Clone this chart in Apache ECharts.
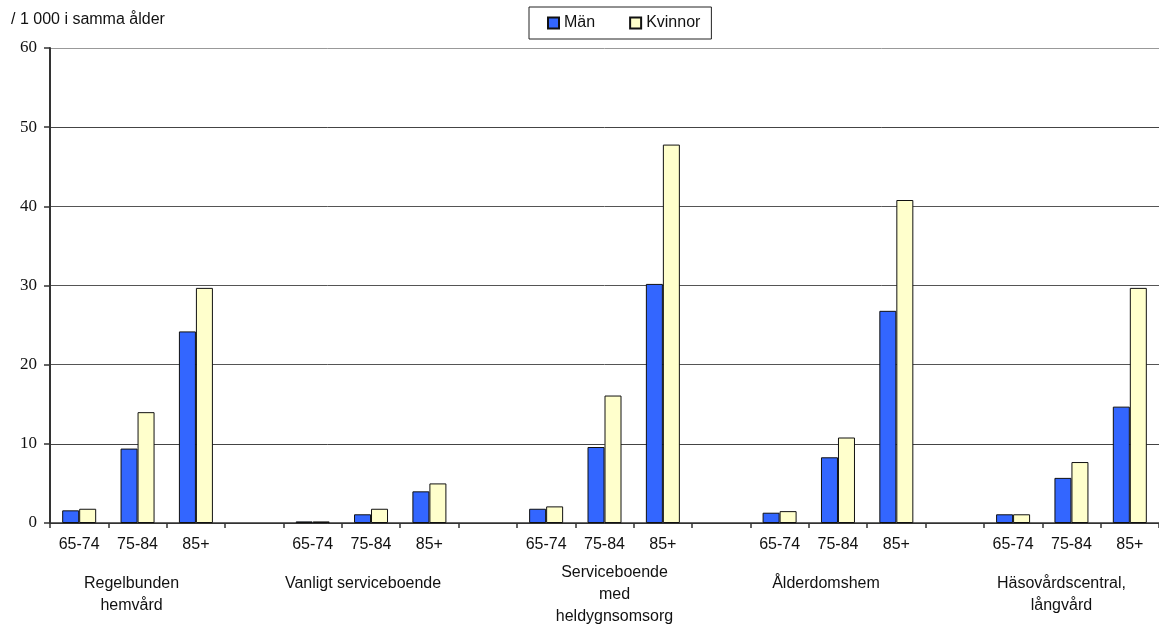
<!DOCTYPE html>
<html>
<head>
<meta charset="utf-8">
<script src="https://cdn.jsdelivr.net/npm/echarts@6/dist/echarts.min.js"></script>
<style>
  html, body { margin: 0; padding: 0; background: #fff; }
  #chart { width: 1159px; height: 625px; }
</style>
</head>
<body>
<div id="chart"></div>
<script>
// Age bands repeated in every care group
const ageBands = ['65-74', '75-84', '85+'];
// Care groups (one block of three age bands each)
const careGroups = [
  'Regelbunden\nhemvård',
  'Vanligt serviceboende',
  'Serviceboende\nmed\nheldygnsomsorg',
  'Ålderdomshem',
  'Häsovårdscentral,\nlångvård'
];
// Per 1 000 of the same age, in group order, three age bands per group
const menValues   = [1.6, 9.4, 24.2,  0.2, 1.1, 4.0,  1.8, 9.6, 30.2,  1.3, 8.3, 26.8,  1.1, 5.7, 14.7];
const womenValues = [1.8, 14.0, 29.7, 0.2, 1.8, 5.0,  2.1, 16.1, 47.8, 1.5, 10.8, 40.8, 1.1, 7.7, 29.7];
const seriesNames = ['Män', 'Kvinnor'];
const yTicks = { min: 0, max: 60, interval: 10 };
const unitLabel = '/ 1 000 i samma ålder';

// Build the category axis: age bands per group, an empty slot between groups
const categories = [];
const men = [];
const women = [];
const groupCenterIndex = [];
careGroups.forEach((g, gi) => {
  if (gi > 0) { categories.push(''); men.push('-'); women.push('-'); }
  ageBands.forEach((a, ai) => {
    if (ai === 1) groupCenterIndex.push(categories.length);
    categories.push(a);
    men.push(menValues[gi * 3 + ai]);
    women.push(womenValues[gi * 3 + ai]);
  });
});

const sans = 'Liberation Sans, Arial, sans-serif';
const serif = 'Liberation Serif, Times New Roman, serif';

const chart = echarts.init(document.getElementById('chart'), null, { renderer: 'canvas' });

chart.setOption({
  animation: false,
  backgroundColor: '#ffffff',
  grid: { left: 50, top: 48, width: 1118, height: 475, containLabel: false },
  legend: {
    left: 529, top: 7,
    padding: [8, 11, 8, 18],
    itemGap: 34,
    itemWidth: 11, itemHeight: 11,
    borderColor: '#222', borderWidth: 1,
    icon: 'rect',
    textStyle: { fontFamily: sans, fontSize: 16, color: '#111' },
    data: seriesNames
  },
  xAxis: {
    type: 'category',
    data: categories,
    boundaryGap: true,
    axisLine: { lineStyle: { color: '#333', width: 1.5 } },
    axisTick: { show: true, length: 5, lineStyle: { color: '#333', width: 1.5 } },
    axisLabel: { interval: 0, margin: 14, fontFamily: sans, fontSize: 16, color: '#111' }
  },
  yAxis: {
    type: 'value',
    min: yTicks.min, max: yTicks.max, interval: yTicks.interval,
    axisLine: { show: true, lineStyle: { color: '#333', width: 2 } },
    axisTick: { show: true, length: 6, lineStyle: { color: '#333', width: 1.5 } },
    axisLabel: { margin: 13, fontFamily: serif, fontSize: 17, color: '#111' },
    splitLine: { show: true, lineStyle: { color: ['#333', '#444', '#555', '#555', '#555', '#444', '#999'], width: 1 } }
  },
  series: [
    {
      name: seriesNames[0], type: 'bar', data: men,
      barWidth: 17, barGap: '0%',
      itemStyle: { color: '#3366FF', borderColor: '#111', borderWidth: 1 }
    },
    {
      name: seriesNames[1], type: 'bar', data: women,
      barWidth: 17, barGap: '0%',
      itemStyle: { color: '#FFFFCC', borderColor: '#111', borderWidth: 1 }
    }
  ]
});

// Group captions under the age bands, placed at the middle band of each group
const captionShift = [-6, -8, 10, -12, -10];
const graphics = careGroups.map((g, gi) => {
  const cx = chart.convertToPixel({ xAxisIndex: 0 }, groupCenterIndex[gi]) + captionShift[gi];
  const lines = g.split('\n').length;
  return {
    type: 'text',
    x: cx,
    y: lines > 2 ? 562 : 573,
    style: {
      text: g, fontFamily: sans, fontSize: 16, lineHeight: 22,
      fill: '#111', align: 'center', verticalAlign: 'top'
    }
  };
});
graphics.push({
  type: 'text', x: 11, y: 12,
  style: { text: unitLabel, fontFamily: sans, fontSize: 16, fill: '#111', align: 'left', verticalAlign: 'top' }
});
chart.setOption({ graphic: graphics });
</script>
</body>
</html>
